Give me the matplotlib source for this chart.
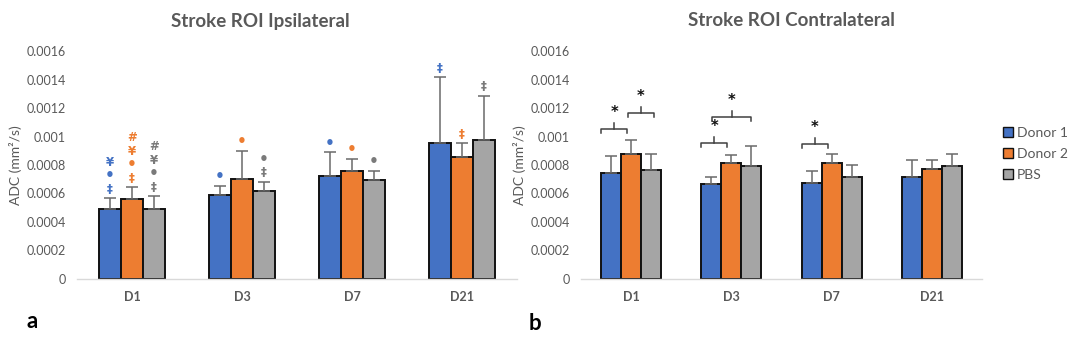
import matplotlib
matplotlib.use("Agg")
import matplotlib.pyplot as plt
import numpy as np
from matplotlib.patches import Patch

plt.rcParams['font.family'] = ['Lato', 'DejaVu Sans']

# ---------------- data ----------------
days = ["D1", "D3", "D7", "D21"]
groups = ["Donor 1", "Donor 2", "PBS"]

ipsi_donor1 = [0.000488, 0.000591, 0.000720, 0.000953]
ipsi_donor2 = [0.000560, 0.000701, 0.000760, 0.000858]
ipsi_pbs = [0.000488, 0.000617, 0.000692, 0.000974]
ipsi_donor1_err = [0.000077, 0.000061, 0.000169, 0.000467]
ipsi_donor2_err = [0.000084, 0.000198, 0.000084, 0.000095]
ipsi_pbs_err = [0.000093, 0.000065, 0.000068, 0.000314]

contra_donor1 = [0.000746, 0.000666, 0.000671, 0.000715]
contra_donor2 = [0.000875, 0.000814, 0.000814, 0.000770]
contra_pbs = [0.000765, 0.000791, 0.000715, 0.000795]
contra_donor1_err = [0.000119, 0.000049, 0.000084, 0.000122]
contra_donor2_err = [0.000099, 0.000054, 0.000065, 0.000065]
contra_pbs_err = [0.000112, 0.000145, 0.000087, 0.000082]

# significance symbols (ipsilateral), listed bottom to top
ipsi_symbols_donor1 = [["‡", "•", "¥"], ["•"], ["•"], ["‡"]]
ipsi_symbols_donor2 = [["‡", "•", "¥", "#"], ["•"], ["•"], ["‡"]]
ipsi_symbols_pbs = [["‡", "•", "¥", "#"], ["‡", "•"], ["•"], ["‡"]]

# contralateral comparison brackets: (day index, bar a, bar b, label)
contra_brackets = [(0, 0, 1, "*"), (0, 1, 2, "*"), (1, 0, 1, "*"), (1, 0, 2, "*"), (2, 0, 1, "*")]
contra_bracket_levels = [0.001056, 0.001168, 0.000957, 0.001140, 0.000950]

yticks = [0, 0.0002, 0.0004, 0.0006, 0.0008, 0.001, 0.0012, 0.0014, 0.0016]
ytick_labels = ["0", "0.0002", "0.0004", "0.0006", "0.0008", "0.001", "0.0012", "0.0014", "0.0016"]

# ---------------- style ----------------
colors = ["#4472C4", "#ED7D31", "#A5A5A5"]
sym_colors = ["#4472C4", "#ED7D31", "#7A7A7A"]
text_gray = "#595959"
W, H = 1076, 339
fig = plt.figure(figsize=(W / 100, H / 100), dpi=100)

bar_w = 0.2
offsets = [-0.2, 0.0, 0.2]
x = np.arange(len(days))


def setup(ax):
    ax.set_xlim(-0.5, len(days) - 0.5)
    ax.set_ylim(0, 0.0016)
    ax.set_yticks(yticks)
    ax.set_yticklabels(ytick_labels)
    ax.set_xticks(x)
    ax.set_xticklabels(days, fontweight="bold")
    for s in ["top", "right", "left"]:
        ax.spines[s].set_visible(False)
    ax.spines["bottom"].set_color("#D9D9D9")
    ax.spines["bottom"].set_linewidth(1.0)
    ax.tick_params(axis="both", length=0, colors=text_gray, labelsize=9)
    ax.tick_params(axis="y", pad=8)
    ax.tick_params(axis="x", pad=9)


def draw_bars(ax, means, errs):
    for i, (m, e) in enumerate(zip(means, errs)):
        ax.bar(x + offsets[i], m, width=bar_w, color=colors[i], edgecolor="#111111",
               linewidth=1.4, zorder=2)
        ax.errorbar(x + offsets[i], m, yerr=[np.zeros(len(m)), e], fmt="none",
                    ecolor="#6A6A6A", elinewidth=1.1, capsize=4, capthick=1.1, zorder=3)


# left panel
axL = fig.add_axes([77 / W, 1 - 278.5 / H, 440 / W, 227 / H])
setup(axL)
ipsi_means = [np.array(ipsi_donor1), np.array(ipsi_donor2), np.array(ipsi_pbs)]
ipsi_errs = [np.array(ipsi_donor1_err), np.array(ipsi_donor2_err), np.array(ipsi_pbs_err)]
draw_bars(axL, ipsi_means, ipsi_errs)
ipsi_syms = [ipsi_symbols_donor1, ipsi_symbols_donor2, ipsi_symbols_pbs]
for g in range(3):
    for d in range(len(days)):
        top = ipsi_means[g][d] + ipsi_errs[g][d]
        for k, s in enumerate(ipsi_syms[g][d]):
            fs = 11 if s == "•" else 8.5
            axL.annotate(s, xy=(x[d] + offsets[g], top), xytext=(0, 9 + 13.5 * k),
                         textcoords="offset pixels", ha="center", va="center",
                         color=sym_colors[g], fontsize=fs, fontweight="bold",
                         family=["DejaVu Sans"])

# right panel
axR = fig.add_axes([581 / W, 1 - 278.5 / H, 401 / W, 227 / H])
setup(axR)
contra_means = [np.array(contra_donor1), np.array(contra_donor2), np.array(contra_pbs)]
contra_errs = [np.array(contra_donor1_err), np.array(contra_donor2_err), np.array(contra_pbs_err)]
draw_bars(axR, contra_means, contra_errs)

leg_h = 0.000033
tick_h = 0.000042
for (d, a, b, lab), lvl in zip(contra_brackets, contra_bracket_levels):
    x0 = x[d] + offsets[a] - 0.1
    x1 = x[d] + offsets[b] - 0.04
    if b - a == 2:
        x0 = x[d] + offsets[a] + 0.005
        x1 = x[d] + offsets[b] - 0.0
    if a == 1:
        x0 = x[d] + offsets[a] - 0.036
        x1 = x[d] + offsets[b] + 0.033
    xm = (x0 + x1) / 2
    axR.plot([x0, x0, x1, x1], [lvl - leg_h, lvl, lvl, lvl - leg_h], color="#404040", lw=1.1, zorder=3)
    axR.plot([xm, xm], [lvl, lvl + tick_h], color="#404040", lw=1.1, zorder=3)
    axR.text(xm, lvl + 0.000112, lab, ha="center", va="center", fontsize=10.5,
             fontweight="bold", color="#111111", family=["DejaVu Sans"])

# titles & labels
fig.text(260 / W, 1 - 21 / H, "Stroke ROI Ipsilateral", ha="center", va="center",
         fontsize=13.5, fontweight="bold", color=text_gray)
fig.text(791 / W, 1 - 21 / H, "Stroke ROI Contralateral", ha="center", va="center",
         fontsize=13.5, fontweight="bold", color=text_gray)
fig.text(16 / W, 1 - 165 / H, "ADC (mm²/s)", rotation=90, ha="center", va="center",
         fontsize=10, color=text_gray)
fig.text(520 / W, 1 - 165 / H, "ADC (mm²/s)", rotation=90, ha="center", va="center",
         fontsize=10, color=text_gray)
fig.text(32 / W, 1 - 321 / H, "a", ha="center", va="center", fontsize=16,
         fontweight="bold", color="black")
fig.text(535 / W, 1 - 324 / H, "b", ha="center", va="center", fontsize=16,
         fontweight="bold", color="black")

handles = [Patch(facecolor=c, edgecolor="#111111", linewidth=1.0) for c in colors]
fig.legend(handles, groups, loc="upper left", bbox_to_anchor=(1003 / W, 1 - 127 / H),
           bbox_transform=fig.transFigure, frameon=False, fontsize=10,
           handlelength=0.7, handleheight=0.7, handletextpad=0.3, labelspacing=0.65,
           borderpad=0, borderaxespad=0, labelcolor=text_gray)

fig.savefig("out.png", dpi=100)
